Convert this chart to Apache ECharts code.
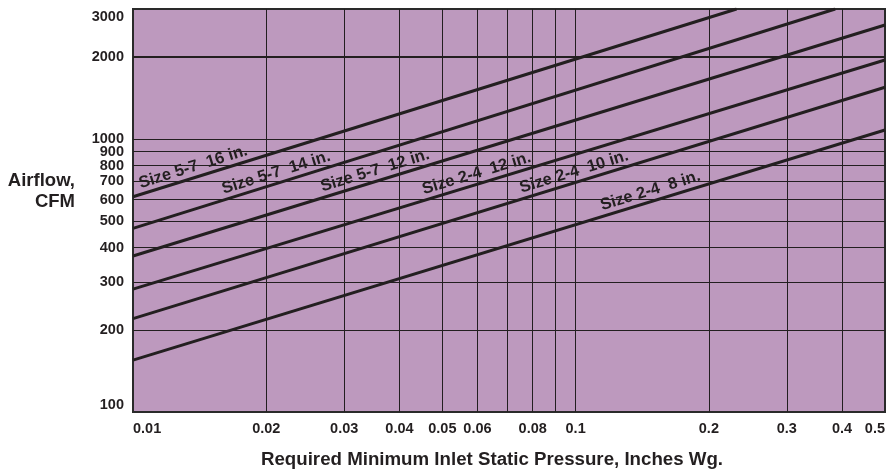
<!DOCTYPE html>
<html>
<head>
<meta charset="utf-8">
<script src="https://cdn.jsdelivr.net/npm/echarts@6.0.0/dist/echarts.min.js"></script>
<style>
html,body{margin:0;padding:0;background:#fff;}
#chart{width:888px;height:471px;}
</style>
</head>
<body>
<div id="chart"></div>
<script>
// ---- data ----
const xTickLabels = [0.01, 0.02, 0.03, 0.04, 0.05, 0.06, 0.08, 0.1, 0.2, 0.3, 0.4, 0.5];
const xGridValues = [0.02, 0.03, 0.04, 0.05, 0.06, 0.07, 0.08, 0.09, 0.1, 0.2, 0.3, 0.4];
const yTickLabels = [100, 200, 300, 400, 500, 600, 700, 800, 900, 1000, 2000, 3000];
const yGridValues = [200, 300, 400, 500, 600, 700, 800, 900, 1000, 2000];

const lineNames = ['Size 5-7  16 in.', 'Size 5-7  14 in.', 'Size 5-7  12 in.', 'Size 2-4  12 in.', 'Size 2-4  10 in.', 'Size 2-4  8 in.'];
const size57_16 = [[0.01, 615], [0.231, 3000]];
const size57_14 = [[0.01, 471], [0.386, 3000]];
const size57_12 = [[0.01, 373], [0.5, 2620]];
const size24_12 = [[0.01, 282], [0.5, 1950]];
const size24_10 = [[0.01, 220], [0.5, 1550]];
const size24_8  = [[0.01, 155], [0.5, 1080]];
const lineData = [size57_16, size57_14, size57_12, size24_12, size24_10, size24_8];
// pressure along each line where its label sits
const labelAt = [0.0139, 0.0214, 0.0358, 0.0607, 0.1008, 0.150];

// ---- styles ----
const FONT = "'Liberation Sans', Arial, Helvetica, sans-serif";
const INK = '#231f20';
const PLOT_BG = '#bd99be';

function fmt(v){ return String(+(+v).toPrecision(6)); }

const chart = echarts.init(document.getElementById('chart'), null, {renderer:'canvas'});

const series = lineData.map((d, i) => ({
  type: 'line',
  name: lineNames[i],
  data: d,
  showSymbol: false,
  symbol: 'none',
  silent: true,
  lineStyle: {color: INK, width: 3},
  z: 5,
  markLine: i === 0 ? {
    silent: true, symbol: 'none', label: {show: false},
    lineStyle: {color: INK, width: 2, type: 'solid'},
    data: [{yAxis: 2000}],
    z: 3
  } : undefined
}));

chart.setOption({
  animation: false,
  backgroundColor: '#fff',
  grid: {
    left: 133, top: 9, right: -1, bottom: 59,
    show: true, backgroundColor: PLOT_BG, borderColor: '#2a2a2a', borderWidth: 2
  },
  title: [
    {
      text: 'Airflow,\nCFM', left: 75, top: 170, textAlign: 'right', padding: 0,
      textStyle: {fontFamily: FONT, fontWeight: 'bold', fontSize: 18.5, color: INK, lineHeight: 21, align: 'right'}
    },
    {
      text: 'Required Minimum Inlet Static Pressure, Inches Wg.', left: 492, top: 450, textAlign: 'center', padding: 0,
      textStyle: {fontFamily: FONT, fontWeight: 'bold', fontSize: 18.7, color: INK}
    }
  ],
  xAxis: {
    type: 'log', logBase: 10, min: 0.01, max: 0.5,
    axisLine: {show: false},
    axisTick: {show: false, customValues: xGridValues},
    splitLine: {show: true, lineStyle: {color: INK, width: 1}},
    axisLabel: {
      customValues: xTickLabels, formatter: fmt, margin: 9,
      fontFamily: FONT, fontWeight: 'bold', fontSize: 14.5, color: INK,
      alignMinLabel: 'left', alignMaxLabel: 'right'
    }
  },
  yAxis: {
    type: 'log', logBase: 10, min: 100, max: 3000,
    axisLine: {show: false},
    axisTick: {show: false, customValues: yGridValues},
    splitLine: {show: true, lineStyle: {color: INK, width: 1}},
    axisLabel: {
      customValues: yTickLabels, formatter: fmt, margin: 9,
      fontFamily: FONT, fontWeight: 'bold', fontSize: 14.5, color: INK,
      verticalAlignMinLabel: 'bottom', verticalAlignMaxLabel: 'top'
    }
  },
  series: series
});

// rotated labels along the lines
function placeLabels(){
  const g = [];
  lineData.forEach((d, i) => {
    const a = chart.convertToPixel({gridIndex: 0}, d[0]);
    const b = chart.convertToPixel({gridIndex: 0}, d[1]);
    const ang = Math.atan2(-(b[1] - a[1]), b[0] - a[0]);
    const lx0 = Math.log10(d[0][0]), lx1 = Math.log10(d[1][0]);
    const ly0 = Math.log10(d[0][1]), ly1 = Math.log10(d[1][1]);
    const t = (Math.log10(labelAt[i]) - lx0) / (lx1 - lx0);
    const q = Math.pow(10, ly0 + t * (ly1 - ly0));
    const p = chart.convertToPixel({gridIndex: 0}, [labelAt[i], q]);
    const off = 10.5;
    const cx = p[0] - Math.sin(ang) * off;
    const cy = p[1] - Math.cos(ang) * off;
    g.push({
      type: 'text', x: cx, y: cy, rotation: ang, z: 10, silent: true,
      style: {
        text: lineNames[i], fill: INK,
        font: 'bold 16.5px ' + FONT,
        align: 'center', verticalAlign: 'middle',
        textAlign: 'center', textVerticalAlign: 'middle'
      }
    });
  });
  chart.setOption({graphic: g});
}
placeLabels();
</script>
</body>
</html>
